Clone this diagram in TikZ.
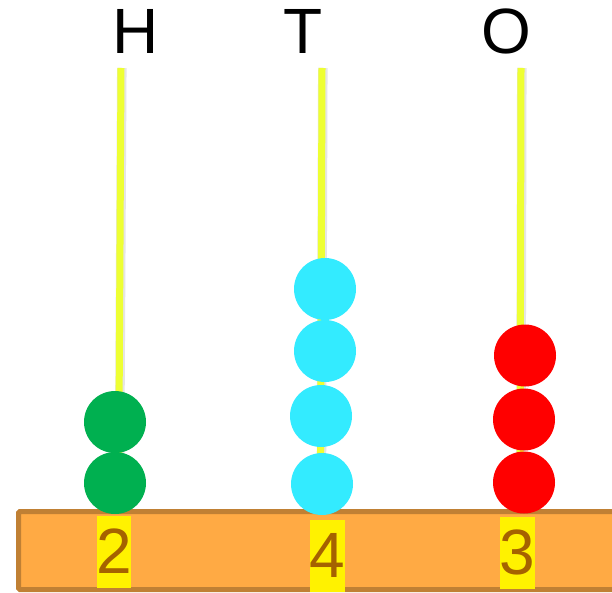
\documentclass[tikz,border=0pt]{standalone}
\usepackage{fontspec}
\setmainfont{Liberation Sans}
\definecolor{rodc}{RGB}{238,255,51}
\definecolor{basefill}{RGB}{255,170,68}
\definecolor{basedraw}{RGB}{192,128,52}
\definecolor{digc}{RGB}{165,98,0}
\definecolor{beadg}{RGB}{0,176,80}
\definecolor{beadc}{RGB}{51,235,255}
\definecolor{beadr}{RGB}{255,0,0}
\tikzset{
  rodshadow/.style={line width=9.5pt, draw=black!10},
  rodline/.style={line width=7pt, draw=rodc},
  bead/.style={circle, inner sep=0pt, minimum size=62pt, draw=none},
  lettr/.style={inner sep=0pt, font=\fontsize{64}{74}\selectfont},
  digbox/.style={fill=yellow, draw=none},
  digit/.style={inner sep=0pt, text=digc, font=\fontsize{64}{74}\selectfont},
  basebar/.style={fill=basefill, draw=basedraw, line width=5pt, rounded corners=1.5pt}
}
\begin{document}
\begin{tikzpicture}[x=1pt,y=-1pt]
\clip (0,0) rectangle (612,593);
\fill[white] (0,0) rectangle (612,593);
% letters
\node[lettr] (lH) at (135.5,31) {H};
\node[lettr] (lT) at (303,31) {T};
\node[lettr] (lO) at (506,31) {O};
% rods
\coordinate (Htop) at (121,68);
\coordinate (Hbot) at (118.5,508);
\coordinate (Ttop) at (322,68);
\coordinate (Tbot) at (320.5,508);
\coordinate (Otop) at (521,68);
\coordinate (Obot) at (520,508);
\draw[rodshadow] ([xshift=0.8pt]Htop) -- ([xshift=0.8pt]Hbot);
\draw[rodshadow] ([xshift=0.8pt]Ttop) -- ([xshift=0.8pt]Tbot);
\draw[rodshadow] ([xshift=0.8pt]Otop) -- ([xshift=0.8pt]Obot);
\draw[rodline] (Htop) -- (Hbot);
\draw[rodline] (Ttop) -- (Tbot);
\draw[rodline] (Otop) -- (Obot);
% base
\path[basebar] (18.5,511.5) rectangle (640,589.5);
% digit boxes
\fill[digbox] (97,516) rectangle (131,588);
\fill[digbox] (310,520) rectangle (345,592);
\fill[digbox] (500,517) rectangle (535,589);
\node[digit] (d2) at (114,551) {2};
\node[digit] (d4) at (327.5,555) {4};
\node[digit] (d3) at (517.5,552) {3};
% beads
\node[bead, fill=beadg] (g1) at (115,483) {};
\node[bead, fill=beadg] (g2) at (115,422) {};
\node[bead, fill=beadc] (c1) at (322,484) {};
\node[bead, fill=beadc] (c2) at (321,416) {};
\node[bead, fill=beadc] (c3) at (325,351) {};
\node[bead, fill=beadc] (c4) at (325,289) {};
\node[bead, fill=beadr] (r1) at (524,482.5) {};
\node[bead, fill=beadr] (r2) at (524,419.5) {};
\node[bead, fill=beadr] (r3) at (525,355.5) {};
\end{tikzpicture}
\end{document}
